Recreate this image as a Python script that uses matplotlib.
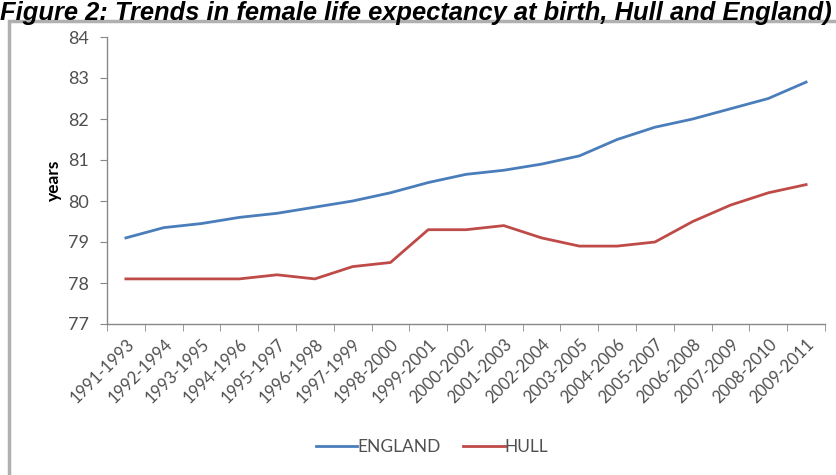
import matplotlib
matplotlib.use('Agg')
import matplotlib.pyplot as plt
from matplotlib.patches import Rectangle
import numpy as np

periods = ['1991-1993', '1992-1994', '1993-1995', '1994-1996', '1995-1997',
           '1996-1998', '1997-1999', '1998-2000', '1999-2001', '2000-2002',
           '2001-2003', '2002-2004', '2003-2005', '2004-2006', '2005-2007',
           '2006-2008', '2007-2009', '2008-2010', '2009-2011']
england = [79.1, 79.35, 79.45, 79.6, 79.7, 79.85, 80.0, 80.2, 80.45, 80.65,
           80.75, 80.9, 81.1, 81.5, 81.8, 82.0, 82.25, 82.5, 82.9]
hull = [78.1, 78.1, 78.1, 78.1, 78.2, 78.1, 78.4, 78.5, 79.3, 79.3,
        79.4, 79.1, 78.9, 78.9, 79.0, 79.5, 79.9, 80.2, 80.4]
yticks = [77, 78, 79, 80, 81, 82, 83, 84]

plt.rcParams['font.family'] = ['Lato', 'DejaVu Sans']
grey = '#505050'
axis_col = '#888888'

fig = plt.figure(figsize=(8.36, 4.75), dpi=100)

# chart frame
fig.patches.append(Rectangle((9 / 836, -0.02), 1.0, 1 - 21 / 475 + 0.02,
                             transform=fig.transFigure, fill=False,
                             edgecolor='#b0b0b0', linewidth=2.5))

fig.text(0.0, 1 - 1 / 475, 'Figure 2: Trends in female life expectancy at birth, Hull and England)',
         family='Liberation Sans', fontweight='bold', fontstyle='italic',
         fontsize=18.4, va='top', ha='left', color='black')

ax = fig.add_axes([107 / 836, 1 - 324 / 475, 718 / 836, 287 / 475])
x = np.arange(len(periods))
ax.plot(x, england, color='#4a7ebb', lw=2.0, label='ENGLAND')
ax.plot(x, hull, color='#be4b48', lw=2.0, label='HULL')

ax.set_xlim(-0.5, len(periods) - 0.5)
ax.set_ylim(77, 84)
ax.set_yticks(yticks)
ax.set_yticklabels([str(v) for v in yticks], fontsize=13, color=grey)
ax.set_xticks(x)
ax.set_xticklabels(periods, rotation=45, ha='right', rotation_mode='anchor',
                   fontsize=12, color=grey)
ax.set_xticks(np.arange(len(periods) + 1) - 0.5, minor=True)
ax.tick_params(axis='x', which='major', length=0, pad=9)
ax.tick_params(axis='x', which='minor', length=5, color=axis_col, direction='out')
ax.tick_params(axis='y', length=5, color=axis_col, direction='out', pad=8)
ax.set_ylabel('years', fontsize=12.5, fontweight='bold', color='black', labelpad=4)

for s in ['top', 'right']:
    ax.spines[s].set_visible(False)
for s in ['left', 'bottom']:
    ax.spines[s].set_color(axis_col)
    ax.spines[s].set_linewidth(1.0)

fig.legend(loc='center', bbox_to_anchor=(432 / 836, 1 - 447 / 475), ncol=2,
           frameon=False, fontsize=12.5, handlelength=2.4, columnspacing=1.3,
           handletextpad=0.0, labelcolor=grey)

fig.savefig('out.png', dpi=100)
